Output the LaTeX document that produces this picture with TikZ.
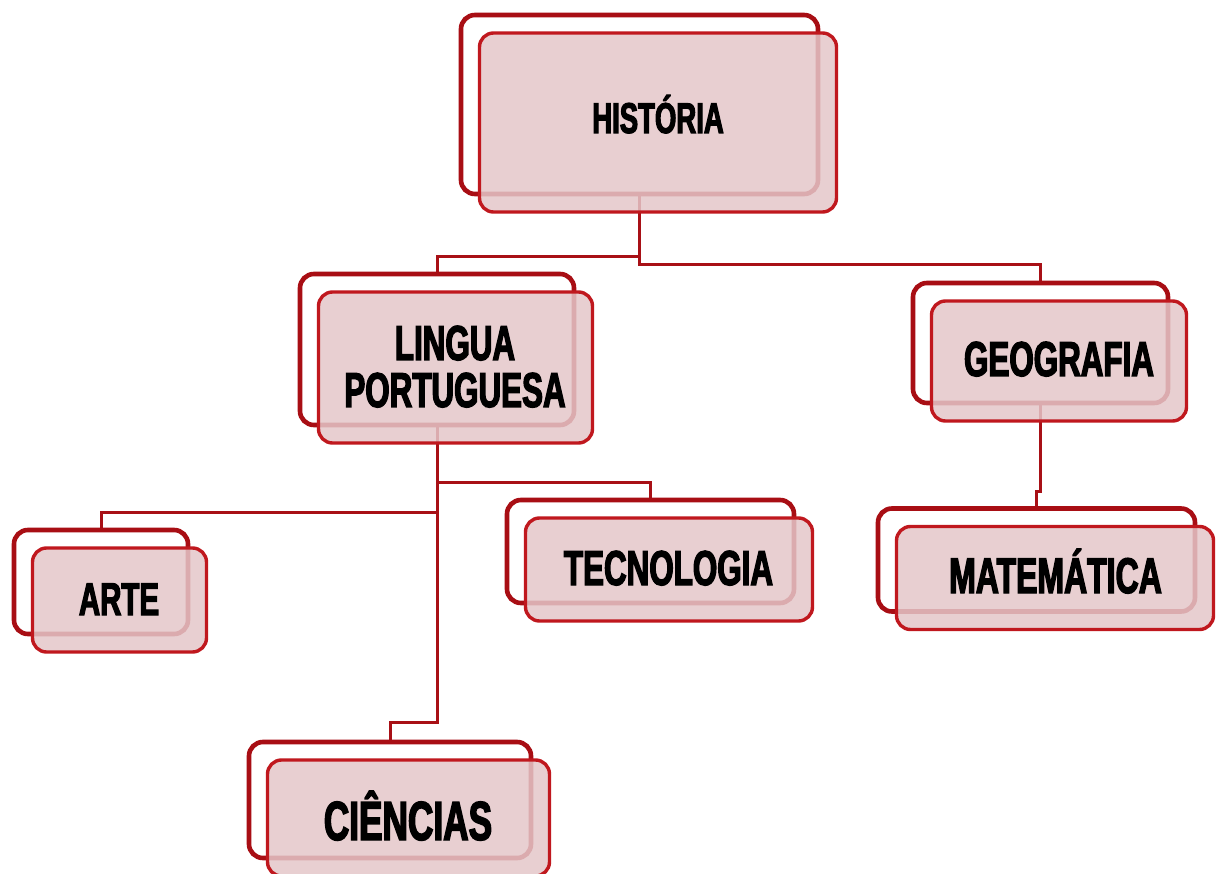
\documentclass[tikz,border=0pt]{standalone}
\usepackage{fontspec}
\usetikzlibrary{calc,backgrounds}
\newfontfamily\impactfont{Liberation Sans Bold}[FakeStretch=0.64,FakeBold=2.6]
\definecolor{backred}{RGB}{168,14,20}
\definecolor{frontred}{RGB}{192,24,30}
\definecolor{linkred}{RGB}{168,16,22}
\definecolor{boxpink}{RGB}{228,199,201}
\tikzset{
  backbox/.style={draw=backred, line width=4.6pt, rounded corners=14pt, inner sep=0pt},
  frontbox/.style={draw=frontred, line width=3.4pt, rounded corners=14pt, fill=boxpink, fill opacity=0.85, draw opacity=1, inner sep=0pt},
  link/.style={draw=linkred, line width=3pt},
  label/.style={anchor=base, inner sep=0pt, text=black, font=\impactfont},
}
\newcommand\subjbox[5]{%
  \node[backbox, minimum width=#4pt, minimum height=#5pt] (#1b) at (#2,#3) {};
  \node[frontbox, minimum width=#4pt, minimum height=#5pt] (#1f) at ($(#1b)+(18.5,18)$) {};
}
\begin{document}
\begin{tikzpicture}[x=1pt,y=-1pt]
\useasboundingbox (0,0) rectangle (1216,874);
\subjbox{H}{639.5}{104.5}{357}{179}
\subjbox{LP}{437}{349.5}{274}{151}
\subjbox{GEO}{1040.5}{343}{255}{120}
\subjbox{MAT}{1036.5}{560}{317}{103}
\subjbox{TEC}{650.5}{551.5}{287}{103}
\subjbox{ARTE}{101}{582}{174}{104}
\subjbox{CIE}{390}{800}{282}{116}
\node[label, font=\impactfont\fontsize{43}{43}\selectfont] (tH) at (658,133) {HISTÓRIA};
\node[label, font=\impactfont\fontsize{49}{49}\selectfont] (tLP1) at (455,360) {LINGUA};
\node[label, font=\impactfont\fontsize{49}{49}\selectfont] (tLP2) at (455,407) {PORTUGUESA};
\node[label, font=\impactfont\fontsize{49}{49}\selectfont] (tGEO) at (1059,376) {GEOGRAFIA};
\node[label, font=\impactfont\fontsize{50}{50}\selectfont] (tMAT) at (1055.5,593) {MATEMÁTICA};
\node[label, font=\impactfont\fontsize{49}{49}\selectfont] (tTEC) at (668.5,585) {TECNOLOGIA};
\node[label, font=\impactfont\fontsize{46}{46}\selectfont] (tARTE) at (119,615) {ARTE};
\node[label, font=\impactfont\fontsize{55}{55}\selectfont] (tCIE) at (408,840) {CIÊNCIAS};
\begin{scope}[on background layer]
  \fill[white] (0,0) rectangle (1216,874);
  \draw[link] (Hb.south) |- ($(LPb.north)+(0,-15)$) -- (LPb.north);
  \draw[link] (Hb.south) |- ($(GEOb.north)+(0,-16)$) -- (GEOb.north);
  \draw[link] (GEOb.south) |- ($(MATb.north)+(0,-15)$) -- (MATb.north);
  \draw[link] (LPb.south) |- ($(TECb.north)+(0,-15)$) -- (TECb.north);
  \draw[link] (LPb.south) |- ($(ARTEb.north)+(0,-15)$) -- (ARTEb.north);
  \draw[link] (LPb.south) |- ($(CIEb.north)+(0,-17)$) -- (CIEb.north);
\end{scope}
\end{tikzpicture}
\end{document}
